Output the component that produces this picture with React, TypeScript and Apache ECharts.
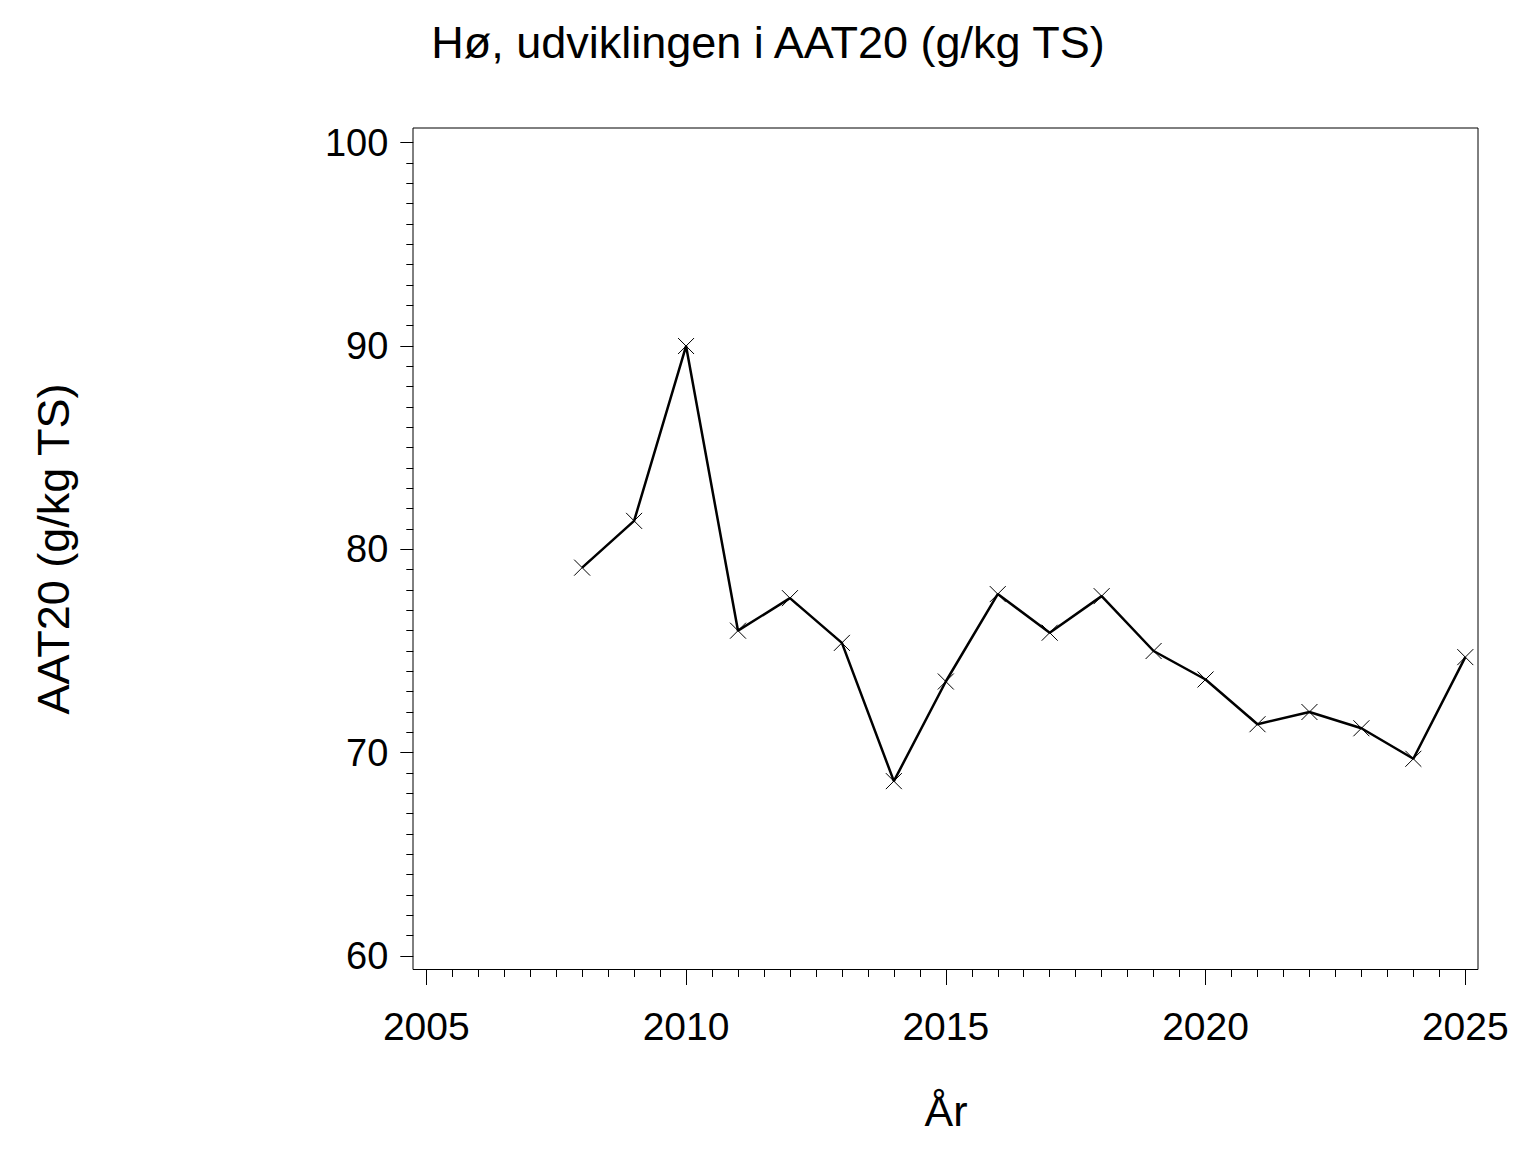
import React, { useEffect, useRef } from "react";
import * as echarts from "echarts";

const years: number[] = [2008, 2009, 2010, 2011, 2012, 2013, 2014, 2015, 2016, 2017, 2018, 2019, 2020, 2021, 2022, 2023, 2024, 2025];
const aat20: number[] = [79.1, 81.4, 90.0, 76.0, 77.6, 75.4, 68.6, 73.5, 77.8, 75.9, 77.7, 75.0, 73.6, 71.4, 72.0, 71.2, 69.7, 74.7];

const titleText = "Hø, udviklingen i AAT20 (g/kg TS)";
const xName = "År";
const yName = "AAT20 (g/kg TS)";

const FONT = "'Liberation Sans', Arial, Helvetica, sans-serif";

export default function App() {
  const ref = useRef<HTMLDivElement>(null);
  useEffect(() => {
    if (!ref.current) return;
    const chart = echarts.init(ref.current, null, { renderer: "svg" });
    const data = years.map((y, i) => [y, aat20[i]]);
    chart.setOption({
      animation: false,
      backgroundColor: "#ffffff",
      title: {
        text: titleText,
        left: "center",
        top: 15,
        textStyle: { fontFamily: FONT, fontSize: 45, fontWeight: "normal", color: "#000" },
      },
      grid: [
        { left: 426.3, top: 142.7, width: 1039, height: 813.3, show: false },
        { left: 413, top: 128, width: 1065, height: 841.5, show: true, borderColor: "#000", borderWidth: 1, backgroundColor: "transparent" },
      ],
      xAxis: [
        {
          type: "value",
          gridIndex: 0,
          min: 2005,
          max: 2025,
          interval: 5,
          offset: 13,
          axisLine: { show: false },
          axisTick: { show: true, length: 16, lineStyle: { color: "#000", width: 1 } },
          minorTick: { show: true, splitNumber: 10, length: 8, lineStyle: { color: "#000", width: 1 } },
          splitLine: { show: false },
          axisLabel: { margin: 38, fontFamily: FONT, fontSize: 39, color: "#000", formatter: (v: number) => String(v) },
        },
        { type: "value", gridIndex: 1, min: 0, max: 1, show: false, splitLine: { show: false } },
      ],
      yAxis: [
        {
          type: "value",
          gridIndex: 0,
          min: 60,
          max: 100,
          interval: 10,
          offset: 13,
          axisLine: { show: false },
          axisTick: { show: true, length: 13, lineStyle: { color: "#000", width: 1 } },
          minorTick: { show: true, splitNumber: 10, length: 7, lineStyle: { color: "#000", width: 1 } },
          splitLine: { show: false },
          axisLabel: { margin: 25, fontFamily: FONT, fontSize: 38, color: "#000" },
        },
        { type: "value", gridIndex: 1, min: 0, max: 1, show: false, splitLine: { show: false } },
      ],
      graphic: [
        {
          type: "text",
          x: 946,
          y: 1111,
          style: { text: xName, font: `43px ${FONT}`, fill: "#000", textAlign: "center", textVerticalAlign: "middle" },
        },
        {
          type: "text",
          x: 53,
          y: 549,
          rotation: Math.PI / 2,
          style: { text: yName, font: `45px ${FONT}`, fill: "#000", textAlign: "center", textVerticalAlign: "middle" },
        },
      ],
      series: [
        {
          type: "line",
          xAxisIndex: 0,
          yAxisIndex: 0,
          data,
          symbol: "path://M0 0L10 10M10 0L0 10",
          symbolSize: 16,
          itemStyle: { color: "rgba(0,0,0,0)", borderColor: "#000", borderWidth: 1 },
          lineStyle: { color: "#000", width: 2.5 },
          z: 3,
        },
      ],
    });
    return () => chart.dispose();
  }, []);
  return <div ref={ref} style={{ position: "absolute", left: 0, top: 0, width: 1536, height: 1152 }} />;
}
